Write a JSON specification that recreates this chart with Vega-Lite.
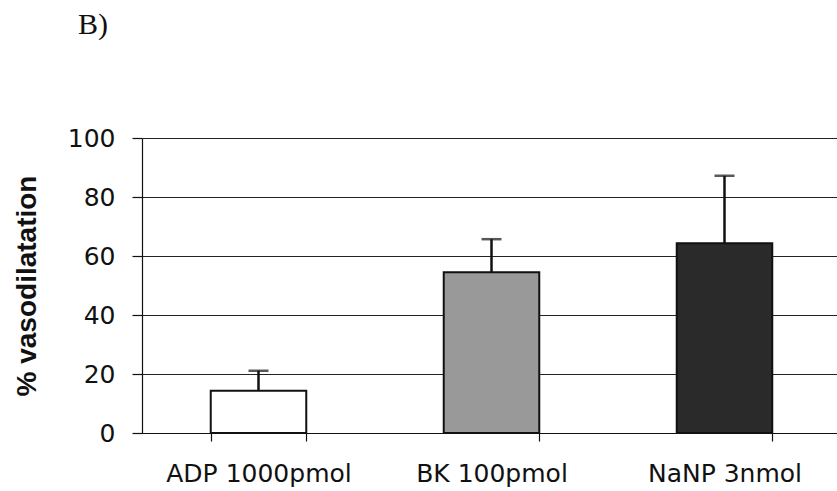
{
  "$schema": "https://vega.github.io/schema/vega-lite/v6.json",
  "autosize": {"type": "none"},
  "padding": {"left": 142, "top": 138, "right": 0, "bottom": 58},
  "width": 699,
  "height": 295,
  "background": "white",
  "title": {
    "text": "B)",
    "font": "Liberation Serif",
    "fontSize": 30,
    "fontWeight": "normal",
    "color": "#111111",
    "anchor": "start",
    "frame": "group",
    "dx": -64,
    "offset": 86
  },
  "config": {
    "view": {"stroke": null},
    "axis": {
      "labelFont": "DejaVu Sans",
      "labelFontSize": 25,
      "labelColor": "#111111",
      "labelLimit": 0,
      "domainColor": "#111111",
      "tickColor": "#111111",
      "domainWidth": 1.2,
      "tickWidth": 1.2
    }
  },
  "data": {
    "values": [
      {"cond": "ADP 1000pmol", "mean": 14.3, "upper": 21.1},
      {"cond": "BK 100pmol", "mean": 54.5, "upper": 65.7},
      {"cond": "NaNP 3nmol", "mean": 64.3, "upper": 87.2}
    ]
  },
  "encoding": {
    "x": {
      "field": "cond",
      "type": "nominal",
      "sort": null,
      "scale": {"paddingInner": 0.59, "paddingOuter": 0.295},
      "axis": {
        "title": null,
        "labelAngle": 0,
        "tickBand": "extent",
        "tickSize": 8,
        "labelPadding": 20
      }
    }
  },
  "layer": [
    {
      "mark": {"type": "bar", "stroke": "#111111", "strokeWidth": 2},
      "encoding": {
        "y": {
          "field": "mean",
          "type": "quantitative",
          "scale": {"domain": [0, 100], "nice": false},
          "axis": {
            "values": [0, 20, 40, 60, 80, 100],
            "grid": true,
            "gridColor": "#222222",
            "gridWidth": 1.2,
            "tickSize": 10,
            "labelPadding": 17,
            "title": "% vasodilatation",
            "titleFont": "Liberation Sans",
            "titleFontSize": 28,
            "titleFontWeight": "bold",
            "titleColor": "#111111",
            "titlePadding": 26
          }
        },
        "fill": {
          "field": "cond",
          "type": "nominal",
          "sort": null,
          "scale": {"range": ["#ffffff", "#999999", "#2a2a2a"]},
          "legend": null
        }
      }
    },
    {
      "mark": {"type": "rule", "color": "#111111", "strokeWidth": 2.5},
      "encoding": {
        "y": {"field": "mean", "type": "quantitative"},
        "y2": {"field": "upper"}
      }
    },
    {
      "mark": {"type": "tick", "color": "#111111", "thickness": 2.5, "size": 20},
      "encoding": {
        "y": {"field": "upper", "type": "quantitative"}
      }
    }
  ]
}
